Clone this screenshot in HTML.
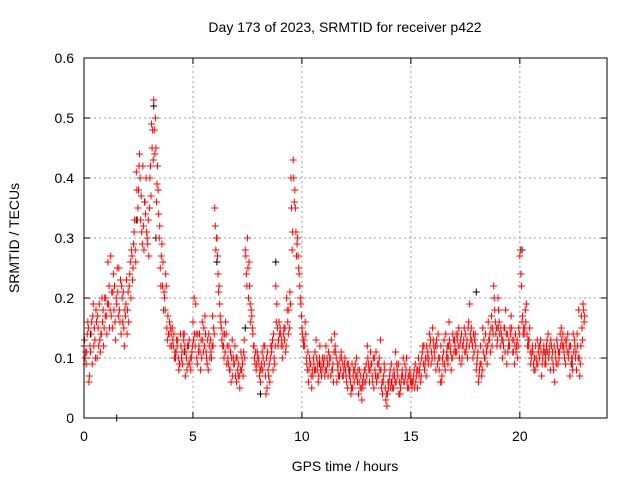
<!DOCTYPE html>
<html><head><meta charset="utf-8"><style>
html,body{margin:0;padding:0;background:#fff;}
svg text{font-family:"Liberation Sans",sans-serif;fill:#000;}
</style></head><body>
<svg id="chart" width="640" height="480" viewBox="0 0 640 480" xmlns="http://www.w3.org/2000/svg">
<rect width="640" height="480" fill="#fff"/>
<text x="345" y="32" font-size="14" text-anchor="middle">Day 173 of 2023, SRMTID for receiver p422</text>
<text x="345" y="471" font-size="14" text-anchor="middle">GPS time / hours</text>
<text x="19" y="238" font-size="14" text-anchor="middle" transform="rotate(-90 19 238)">SRMTID / TECUs</text>
<g id="grid"></g>
<g id="ticks"></g>
<g id="marks"></g>
<rect x="84" y="58" width="523" height="360" fill="none" stroke="#000" stroke-width="1"/>
</svg>
<script>
const xTicks=[0,5,10,15,20];
const yTicks=[0,0.1,0.2,0.3,0.4,0.5,0.6];
const yTickLabels=["0","0.1","0.2","0.3","0.4","0.5","0.6"];
const hours=[0,.1,.2,.3,.4,.5,.6,.7,.8,.9,1,1.1,1.2,1.3,1.4,1.5,1.6,1.7,1.8,1.9,2,2.1,2.2,2.3,2.4,2.5,2.6,2.7,2.8,2.9,3,3.1,3.2,3.3,3.4,3.5,3.6,3.7,3.8,3.9,4,4.1,4.2,4.3,4.4,4.5,4.6,4.7,4.8,4.9,5,5.1,5.2,5.3,5.4,5.5,5.6,5.7,5.8,5.9,6,6.1,6.2,6.3,6.4,6.5,6.6,6.7,6.8,6.9,7,7.1,7.2,7.3,7.4,7.5,7.6,7.7,7.8,7.9,8,8.1,8.2,8.3,8.4,8.5,8.6,8.7,8.8,8.9,9,9.1,9.2,9.3,9.4,9.5,9.6,9.7,9.8,9.9,10,10.1,10.2,10.3,10.4,10.5,10.6,10.7,10.8,10.9,11,11.1,11.2,11.3,11.4,11.5,11.6,11.7,11.8,11.9,12,12.1,12.2,12.3,12.4,12.5,12.6,12.7,12.8,12.9,13,13.1,13.2,13.3,13.4,13.5,13.6,13.7,13.8,13.9,14,14.1,14.2,14.3,14.4,14.5,14.6,14.7,14.8,14.9,15,15.1,15.2,15.3,15.4,15.5,15.6,15.7,15.8,15.9,16,16.1,16.2,16.3,16.4,16.5,16.6,16.7,16.8,16.9,17,17.1,17.2,17.3,17.4,17.5,17.6,17.7,17.8,17.9,18,18.1,18.2,18.3,18.4,18.5,18.6,18.7,18.8,18.9,19,19.1,19.2,19.3,19.4,19.5,19.6,19.7,19.8,19.9,20,20.1,20.2,20.3,20.4,20.5,20.6,20.7,20.8,20.9,21,21.1,21.2,21.3,21.4,21.5,21.6,21.7,21.8,21.9,22,22.1,22.2,22.3,22.4,22.5,22.6,22.7,22.8,22.9];
const srmtidA=[.12,.09,.15,.11,.17,.13,.10,.19,.14,.12,
.20,.26,.18,.15,.22,.19,.25,.14,.21,.17,
.18,.24,.27,.31,.41,.38,.33,.42,.36,.30,
.35,.49,.53,.45,.38,.25,.22,.20,.15,.14,
.14,.12,.10,.13,.09,.11,.14,.10,.12,.08,
.16,.12,.09,.14,.10,.15,.11,.08,.13,.17,
.35,.30,.22,.15,.12,.16,.10,.08,.13,.09,
.06,.09,.11,.07,.28,.30,.22,.17,.12,.08,
.10,.06,.08,.12,.05,.09,.11,.14,.22,.12,
.15,.10,.13,.20,.18,.40,.43,.35,.30,.22,
.15,.13,.10,.06,.09,.07,.11,.08,.10,.07,
.09,.12,.07,.10,.08,.14,.06,.09,.11,.07,
.08,.05,.07,.09,.06,.10,.04,.07,.05,.08,
.12,.06,.09,.05,.11,.07,.13,.04,.08,.02,
.06,.09,.05,.11,.07,.04,.08,.06,.10,.05,
.07,.06,.09,.05,.08,.10,.12,.07,.09,.13,
.15,.10,.12,.08,.06,.11,.14,.09,.12,.10,
.13,.11,.15,.09,.12,.14,.10,.19,.13,.11,
.08,.06,.12,.15,.10,.09,.13,.17,.22,.14,
.20,.12,.10,.15,.09,.13,.17,.11,.14,.10,
.27,.16,.14,.19,.12,.09,.11,.08,.13,.10,
.07,.12,.09,.14,.08,.11,.06,.13,.10,.15,
.12,.09,.14,.07,.10,.13,.08,.18,.12,.19];
const srmtidB=[.10,.14,.07,.16,.12,.18,.15,.11,.16,.20,
.14,.22,.17,.24,.13,.21,.16,.20,.12,.23,
.16,.20,.25,.28,.33,.44,.31,.28,.40,.33,
.42,.48,.44,.39,.30,.27,.18,.24,.17,.12,
.15,.10,.13,.08,.12,.14,.07,.12,.09,.11,
.20,.14,.11,.08,.13,.17,.09,.12,.10,.15,
.28,.24,.17,.12,.14,.09,.12,.06,.10,.07,
.08,.05,.10,.13,.24,.20,.16,.14,.09,.11,
.07,.09,.12,.04,.08,.10,.13,.09,.19,.16,
.12,.14,.11,.16,.21,.28,.36,.27,.25,.19,
.13,.16,.08,.10,.05,.09,.13,.06,.08,.10,
.07,.10,.09,.13,.06,.11,.08,.10,.07,.09,
.06,.08,.04,.07,.09,.06,.08,.03,.06,.09,
.09,.11,.06,.08,.07,.10,.05,.07,.03,.06,
.08,.05,.07,.09,.04,.06,.10,.07,.05,.08,
.05,.08,.07,.10,.06,.12,.09,.10,.14,.11,
.12,.08,.14,.06,.10,.09,.11,.16,.08,.13,
.11,.14,.12,.10,.15,.12,.16,.13,.10,.14,
.10,.08,.07,.13,.12,.16,.11,.15,.18,.12,
.16,.14,.12,.18,.11,.15,.13,.09,.12,.15,
.24,.14,.18,.12,.15,.11,.08,.10,.11,.13,
.10,.09,.13,.11,.12,.08,.10,.09,.14,.12,
.10,.13,.11,.09,.14,.10,.12,.07,.15,.16];
const srmtidC=[.13,.11,.06,.14,.19,.10,.17,.13,.20,.15,
.17,.19,.27,.21,.16,.25,.18,.22,.15,.19,
.21,.26,.23,.33,.38,.42,.37,.32,.34,.29,
.40,.45,.48,.36,.34,.22,.26,.18,.13,.16,
.12,.14,.11,.10,.14,.09,.12,.08,.13,.10,
.13,.19,.14,.11,.16,.12,.10,.14,.11,.12,
.32,.27,.19,.13,.10,.14,.09,.11,.07,.12,
.10,.07,.08,.11,.27,.25,.19,.15,.10,.09,
.09,.08,.10,.07,.11,.06,.12,.10,.16,.13,
.14,.12,.15,.18,.15,.35,.40,.31,.27,.20,
.14,.12,.09,.08,.07,.10,.08,.09,.12,.08,
.10,.08,.11,.07,.09,.12,.09,.07,.10,.08,
.07,.09,.06,.05,.08,.07,.06,.05,.07,.06,
.10,.08,.07,.10,.06,.09,.08,.06,.05,.04,
.07,.06,.08,.06,.09,.05,.07,.09,.06,.07,
.06,.07,.06,.08,.09,.11,.08,.12,.10,.09,
.13,.12,.09,.10,.07,.13,.10,.12,.11,.14,
.12,.13,.10,.14,.13,.11,.15,.14,.12,.13,
.09,.07,.09,.11,.14,.12,.14,.12,.20,.15,
.18,.15,.13,.11,.14,.12,.15,.13,.11,.12,
.28,.17,.15,.14,.13,.10,.09,.12,.09,.12,
.09,.11,.12,.10,.13,.09,.11,.12,.11,.13,
.11,.12,.10,.12,.08,.12,.14,.10,.17,.18];
const srmtidD=[.11,.16,.12,.09,.15,.16,.12,.14,.18,.17,
.19,.15,.21,.18,.20,.17,.23,.16,.18,.14,
.22,.28,.29,.26,.35,.40,.29,.36,.31,.27,
.37,.43,.50,.42,.32,.29,.21,.22,.14,.15,
.13,.11,.12,.09,.10,.13,.11,.09,.10,.12,
.14,.10,.12,.13,.11,.14,.13,.10,.12,.14,
.30,.21,.16,.14,.11,.12,.08,.10,.09,.10,
.07,.08,.09,.10,.22,.26,.18,.12,.11,.10,
.08,.11,.09,.10,.07,.12,.08,.12,.15,.14,
.13,.15,.12,.14,.19,.31,.38,.29,.24,.17,
.12,.14,.11,.09,.08,.08,.10,.07,.09,.09,
.08,.09,.10,.08,.11,.10,.07,.08,.09,.10,
.09,.07,.05,.08,.07,.08,.05,.06,.08,.07,
.08,.09,.10,.07,.09,.08,.06,.09,.04,.05,
.05,.07,.06,.08,.06,.07,.06,.08,.07,.06,
.06,.05,.08,.07,.07,.09,.10,.11,.12,.10,
.11,.13,.10,.12,.09,.08,.12,.13,.10,.11,
.14,.12,.13,.12,.11,.13,.12,.15,.14,.12,
.11,.09,.08,.10,.11,.13,.15,.14,.16,.13,
.14,.13,.15,.14,.12,.14,.11,.12,.13,.14,
.22,.15,.16,.13,.11,.12,.10,.09,.12,.11,
.11,.10,.11,.12,.10,.12,.09,.11,.12,.14,
.13,.11,.12,.10,.11,.11,.10,.09,.13,.17];
const blackHours=[1.5,2.4,3.2,3.3,6.1,7.4,8.1,8.8,9.5,12.2,16.7,18.0,19.0,20.1,21.2,22.4,0.3,4.6,10.8,14.1];
const blackValues=[0,.33,.52,.30,.26,.15,.04,.26,.40,.08,.10,.21,.15,.28,.11,.09,.14,.11,.09,.06];
const X0=84,X1=607,Y0=418,Y1=58,XMAX=24,YMAX=0.6;
function xs(v){return X0+(X1-X0)*v/XMAX;}
function ys(v){return Y0-(Y0-Y1)*v/YMAX;}
const NS="http://www.w3.org/2000/svg";
const grid=document.getElementById('grid'),ticks=document.getElementById('ticks'),marks=document.getElementById('marks');
function ln(p,x1,y1,x2,y2,c,dash){const l=document.createElementNS(NS,'line');l.setAttribute('x1',x1);l.setAttribute('y1',y1);l.setAttribute('x2',x2);l.setAttribute('y2',y2);l.setAttribute('stroke',c);if(dash)l.setAttribute('stroke-dasharray',dash);p.appendChild(l);return l;}
xTicks.forEach(t=>{const x=xs(t);
 if(t>0){const g=ln(grid,x,Y0,x,Y1,'#a0a0a0','2,3');}
 ln(ticks,x,Y0,x,Y0-6,'#000');ln(ticks,x,Y1,x,Y1+6,'#000');
 const tx=document.createElementNS(NS,'text');tx.setAttribute('x',x);tx.setAttribute('y',Y0+23);tx.setAttribute('font-size','14');tx.setAttribute('text-anchor','middle');tx.textContent=t;
 
 
 ticks.appendChild(tx);});
yTicks.forEach((t,i)=>{const y=ys(t);
 if(t>0&&t<0.6){const g=ln(grid,X0,y,X1,y,'#a0a0a0','2,3');}
 ln(ticks,X0,y,X0+6,y,'#000');ln(ticks,X1,y,X1-6,y,'#000');
 const tx=document.createElementNS(NS,'text');tx.setAttribute('x',X0-10);tx.setAttribute('y',y+5);tx.setAttribute('font-size','14');tx.setAttribute('text-anchor','end');tx.textContent=yTickLabels[i];
 
 
 ticks.appendChild(tx);});
function plus(x,y,c,name){const p=document.createElementNS(NS,'path');p.setAttribute('d',`M${x-3.5},${y}h7M${x},${y-3.5}v7`);p.setAttribute('stroke',c);p.setAttribute('stroke-width','1');p.setAttribute('fill','none');
 
 
 marks.appendChild(p);}
blackHours.forEach((h,i)=>plus(xs(h),ys(blackValues[i]),'#000','black-point'));
hours.forEach((h,i)=>{
 plus(xs(h),ys(srmtidA[i]),'#ff0000','red-point');
 plus(xs(h+0.025),ys(srmtidC[i]),'#ff0000','red-point');
 plus(xs(h+0.05),ys(srmtidB[i]),'#ff0000','red-point');
 plus(xs(h+0.075),ys(srmtidD[i]),'#ff0000','red-point');
});
</script>
</body></html>
